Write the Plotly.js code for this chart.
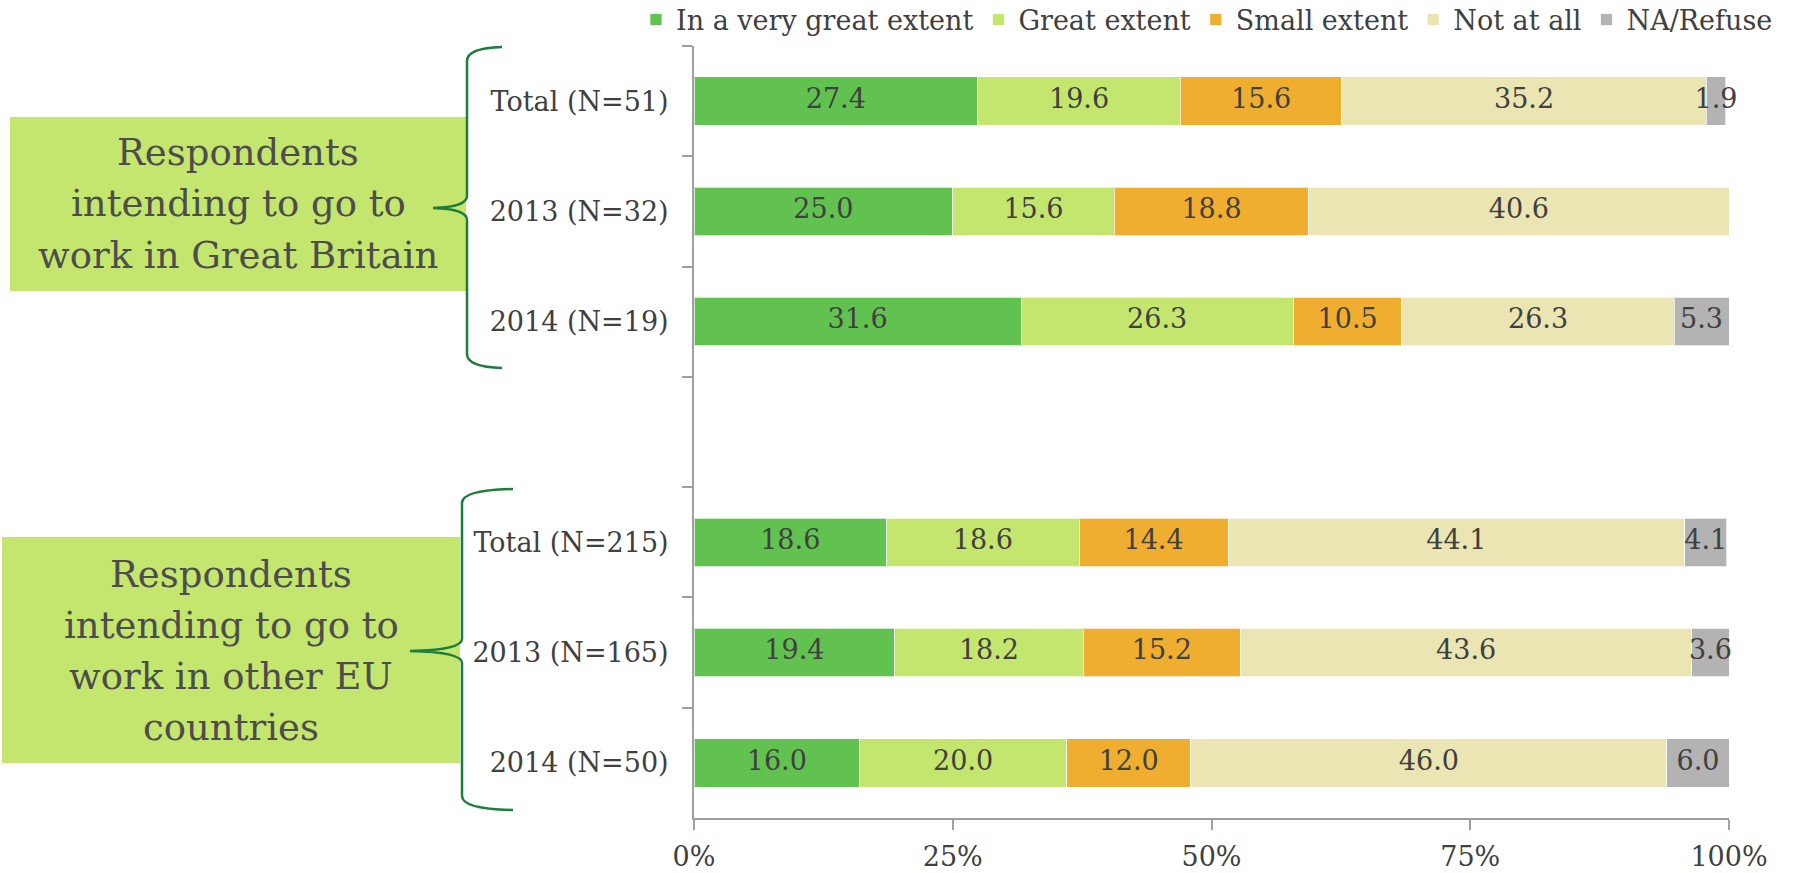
<!DOCTYPE html>
<html>
<head>
<meta charset="utf-8">
<script src="https://cdn.plot.ly/plotly-3.0.1.min.js"></script>
<style>html,body{margin:0;padding:0;background:#fff;}#chart{width:1800px;height:873px;}</style>
</head>
<body>
<div id="chart"></div>
<script>
// ---- data ----
const categories = ["Total (N=51)", "2013 (N=32)", "2014 (N=19)", " ", "Total (N=215)", "2013 (N=165)", "2014 (N=50)"];
const rows = ["Total (N=51)", "2013 (N=32)", "2014 (N=19)", "Total (N=215)", "2013 (N=165)", "2014 (N=50)"];
const seriesNames = ["In a very great extent", "Great extent", "Small extent", "Not at all", "NA/Refuse"];
const veryGreat = [27.4, 25.0, 31.6, 18.6, 19.4, 16.0];
const great     = [19.6, 15.6, 26.3, 18.6, 18.2, 20.0];
const small     = [15.6, 18.8, 10.5, 14.4, 15.2, 12.0];
const notAtAll  = [35.2, 40.6, 26.3, 44.1, 43.6, 46.0];
const naRefuse  = [1.9, 0, 5.3, 4.1, 3.6, 6.0];
const xTickVals = [0, 25, 50, 75, 100];
const xTickText = ["0%", "25%", "50%", "75%", "100%"];
const groupLabels = [
  ["Respondents", "intending to go to", "work in Great Britain"],
  ["Respondents", "intending to go to", "work in other EU", "countries"]
];

// ---- style ----
const colors = ["#61C250", "#C5E66E", "#EFAE30", "#EAE5B2", "#B3B3B3"];
const FONT = "DejaVu Serif, Georgia, serif";
const TXT = "#404040";
const L = 694, R = 1729, T = 46, B = 818;
const px = x => (x - L) / (R - L);
const py = y => (B - y) / (B - T);

const series = [veryGreat, great, small, notAtAll, naRefuse];
const traces = series.map((vals, i) => ({
  type: "bar", orientation: "h", name: seriesNames[i],
  y: rows, x: vals,
  marker: {color: colors[i], line: {color: "rgba(255,255,255,0.7)", width: 1}},
  hoverinfo: "skip"
}));

// value labels centred on each segment
const lx = [], ly = [], lt = [];
rows.forEach((r, j) => {
  let cum = 0;
  series.forEach(vals => {
    const v = vals[j];
    if (v > 0) { lx.push(cum + v / 2); ly.push(r); lt.push(v.toFixed(1)); }
    cum += v;
  });
});
traces.push({
  type: "scatter", mode: "text", x: lx, y: ly, text: lt,
  textposition: "middle center",
  textfont: {family: FONT, size: 27, color: TXT},
  showlegend: false, hoverinfo: "skip", cliponaxis: false
});

// left boxes, braces, labels
const shapes = [];
const annotations = [];
const boxes = [
  {x0: 10, x1: 466, y0: 117, y1: 291, lineCenters: [152, 204, 256]},
  {x0: 2, x1: 460, y0: 537, y1: 763, lineCenters: [574, 625, 676, 727]}
];
boxes.forEach((b, k) => {
  shapes.push({type: "rect", xref: "paper", yref: "paper",
    x0: px(b.x0), x1: px(b.x1), y0: py(b.y1), y1: py(b.y0),
    fillcolor: "#C5E66E", line: {width: 0}, layer: "below"});
  groupLabels[k].forEach((t, i) => {
    annotations.push({xref: "paper", yref: "paper", x: px((b.x0 + b.x1) / 2), y: py(b.lineCenters[i]),
      xanchor: "center", yanchor: "middle", showarrow: false, text: t,
      font: {family: FONT, size: 37, color: "#4D4D4D"}});
  });
});
const braces = [
  {xv: 467, xe: 502, top: 47, bot: 368, tipx: 433, tipy: 208},
  {xv: 462, xe: 513, top: 489, bot: 810, tipx: 410, tipy: 651}
];
braces.forEach(b => {
  const P = (x, y) => px(x).toFixed(5) + "," + py(y).toFixed(5);
  const path = "M" + P(b.xe, b.top) +
    " Q" + P(b.xv, b.top + 1) + " " + P(b.xv, b.top + 14) +
    " L" + P(b.xv, b.tipy - 12) +
    " Q" + P(b.xv, b.tipy - 1) + " " + P(b.tipx, b.tipy) +
    " Q" + P(b.xv, b.tipy + 1) + " " + P(b.xv, b.tipy + 12) +
    " L" + P(b.xv, b.bot - 14) +
    " Q" + P(b.xv, b.bot - 1) + " " + P(b.xe, b.bot);
  shapes.push({type: "path", xref: "paper", yref: "paper", path: path,
    line: {color: "#1E7D3A", width: 2.5}});
});

const layout = {
  width: 1800, height: 873,
  margin: {l: L, r: 1800 - R, t: T, b: 873 - B, pad: 0, autoexpand: false},
  paper_bgcolor: "#ffffff", plot_bgcolor: "#ffffff",
  barmode: "stack", bargap: 0.56,
  font: {family: FONT, size: 27, color: TXT},
  showlegend: true,
  legend: {orientation: "h", xref: "paper", yref: "paper", x: px(636), xanchor: "left",
    y: py(20), yanchor: "middle", font: {family: FONT, size: 27, color: TXT},
    traceorder: "normal", itemclick: false, bgcolor: "rgba(0,0,0,0)", itemwidth: 30},
  xaxis: {range: [0, 100], tickvals: xTickVals, ticktext: xTickText,
    showgrid: false, zeroline: false, showline: true, linecolor: "#A0A0A0", linewidth: 2,
    ticks: "outside", ticklen: 10, tickwidth: 2, tickcolor: "#A0A0A0",
    tickfont: {family: FONT, size: 27, color: TXT}, ticklabelstandoff: 4, fixedrange: true},
  yaxis: {type: "category", categoryorder: "array", categoryarray: categories,
    autorange: "reversed", showgrid: false, zeroline: false, showline: true,
    linecolor: "#A0A0A0", linewidth: 2,
    ticks: "outside", tickson: "boundaries", ticklen: 10, tickwidth: 2, tickcolor: "#A0A0A0",
    tickfont: {family: FONT, size: 27, color: TXT}, ticklabelstandoff: 18, fixedrange: true},
  shapes: shapes,
  annotations: annotations
};

Plotly.newPlot("chart", traces, layout, {displayModeBar: false, staticPlot: true});
</script>
</body>
</html>
